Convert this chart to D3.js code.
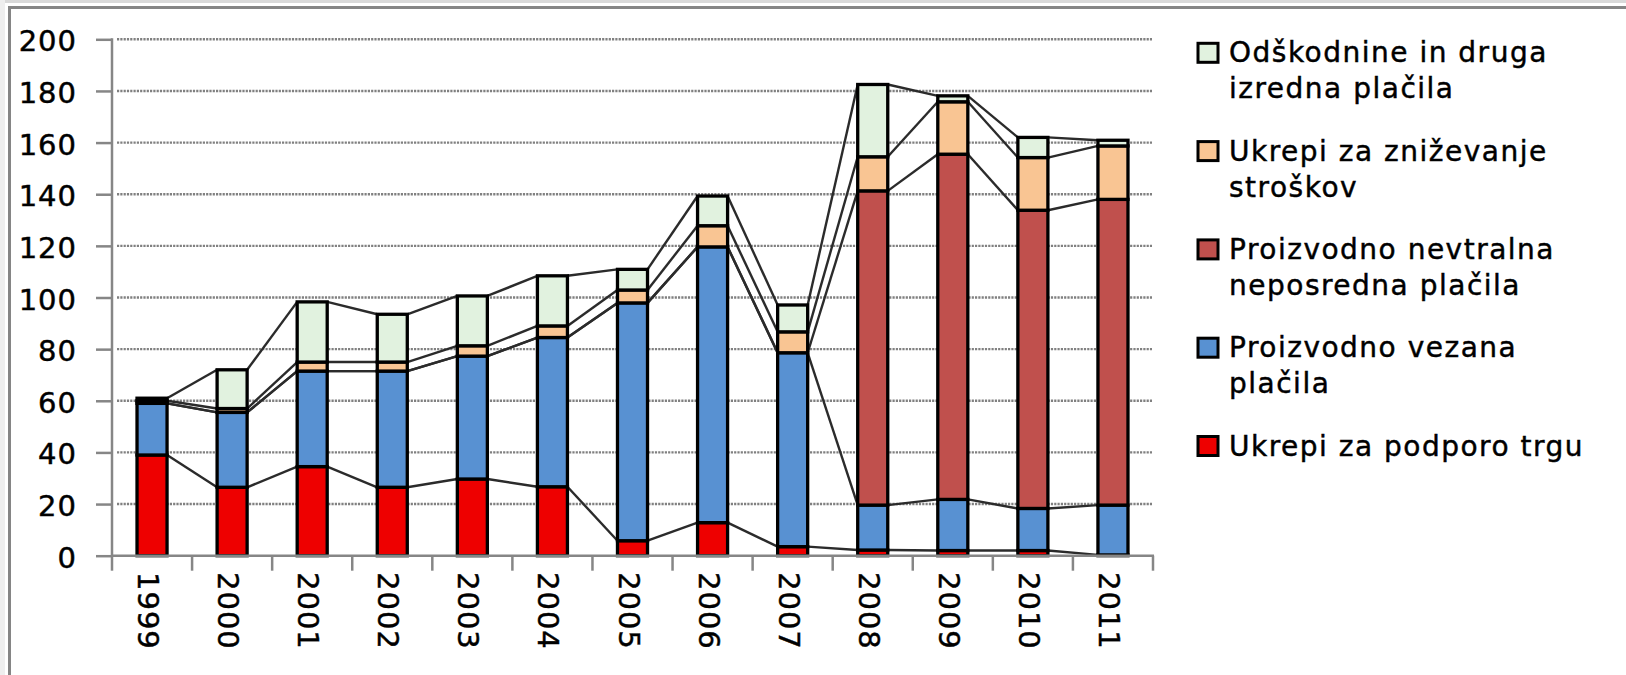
<!DOCTYPE html>
<html>
<head>
<meta charset="utf-8">
<script src="https://cdn.jsdelivr.net/npm/d3@7"></script>
<style>
  html, body { margin: 0; padding: 0; background: #fff; }
  svg { display: block; }
  text { font-family: "DejaVu Sans", Verdana, sans-serif; fill: #000; stroke: #000; stroke-width: 0.45px; }
</style>
</head>
<body>
<svg id="chart" width="1626" height="675"></svg>
<script>
// Years on the x axis
const years = ["1999","2000","2001","2002","2003","2004","2005","2006","2007","2008","2009","2010","2011"];

// Series values (stacked bottom to top)
const podporoTrgu   = [39, 26.5, 34.5, 26.5, 29.7, 26.7, 5.8, 12.8, 3.5, 2.2, 2, 2, 0.3];
const vezanaPlacila = [20, 29, 37, 45, 47.6, 57.8, 92.1, 106.8, 75.1, 17.4, 19.8, 16.3, 19.3];
const nevtralnaPlacila = [0, 0, 0, 0, 0, 0, 0, 0, 0, 121.7, 133.7, 115.5, 118.4];
const znizevanjeStroskov = [1, 1.5, 3.5, 3.5, 4, 4.5, 5, 8.2, 8.1, 13.2, 20.3, 20.4, 20.7];
const odskodnine    = [1, 15, 23.3, 18.5, 19.3, 19.4, 8, 11.5, 10.4, 28, 2.3, 7.8, 2.2];

// Y axis tick labels
const yTicks = [0, 20, 40, 60, 80, 100, 120, 140, 160, 180, 200];

// Series names, in stacking order, with legend text lines
const seriesNames = [
  ["Ukrepi za podporo trgu"],
  ["Proizvodno vezana", "plačila"],
  ["Proizvodno nevtralna", "neposredna plačila"],
  ["Ukrepi za zniževanje", "stroškov"],
  ["Odškodnine in druga", "izredna plačila"]
];
const seriesValues = [podporoTrgu, vezanaPlacila, nevtralnaPlacila, znizevanjeStroskov, odskodnine];
const seriesColors = ["#ee0000", "#5891d2", "#c0504d", "#f9c593", "#e1f2df"];

const svg = d3.select("#chart");

// Outer frame
svg.append("rect").attr("x", 0).attr("y", 0).attr("width", 1626).attr("height", 3).attr("fill", "#d9d9d9");
svg.append("rect").attr("x", 0).attr("y", 0).attr("width", 5).attr("height", 675).attr("fill", "#eeeeee");
svg.append("rect").attr("x", 8).attr("y", 6).attr("width", 1618).attr("height", 3).attr("fill", "#858585");
svg.append("rect").attr("x", 8).attr("y", 6).attr("width", 3).attr("height", 669).attr("fill", "#858585");

const plotLeft = 112, plotRight = 1153, plotTop = 39.3, plotBottom = 555.7;

const x = d3.scaleBand().domain(years).range([plotLeft, plotRight]);
const y = d3.scaleLinear().domain([0, 200]).range([plotBottom, plotTop]);
const barW = x.bandwidth() * 0.375;

// Stack data
const table = years.map((yr, i) => {
  const row = { year: yr };
  seriesValues.forEach((vals, s) => row["s" + s] = vals[i]);
  return row;
});
const keys = seriesValues.map((_, s) => "s" + s);
const stacked = d3.stack().keys(keys)(table);

// Dotted gridlines
svg.append("g").selectAll("line")
  .data(yTicks.filter(t => t > 0))
  .join("line")
  .attr("x1", plotLeft + 5).attr("x2", plotRight - 1)
  .attr("y1", d => y(d)).attr("y2", d => y(d))
  .attr("stroke", "#808080").attr("stroke-width", 2.4)
  .attr("stroke-dasharray", "2.2,1.1");

// Series lines joining segment tops of adjacent bars
const lineG = svg.append("g");
stacked.forEach(layer => {
  for (let i = 0; i < layer.length - 1; i++) {
    const a = layer[i], b = layer[i + 1];
    lineG.append("line")
      .attr("x1", x(years[i]) + x.bandwidth() / 2 + barW / 2)
      .attr("y1", y(a[1]))
      .attr("x2", x(years[i + 1]) + x.bandwidth() / 2 - barW / 2)
      .attr("y2", y(b[1]))
      .attr("stroke", "#2b2b2b").attr("stroke-width", 2.4);
  }
});

// Stacked bars
const barG = svg.append("g");
stacked.forEach((layer, s) => {
  barG.append("g").selectAll("rect")
    .data(layer.filter(d => d[1] - d[0] > 0))
    .join("rect")
    .attr("x", d => x(d.data.year) + x.bandwidth() / 2 - barW / 2)
    .attr("y", d => y(d[1]))
    .attr("width", barW)
    .attr("height", d => y(d[0]) - y(d[1]))
    .attr("fill", seriesColors[s])
    .attr("stroke", "#000").attr("stroke-width", 3.3);
});

// Y axis
const yAxis = svg.append("g").attr("transform", `translate(${plotLeft},0)`)
  .call(d3.axisLeft(y).tickValues(yTicks).tickSize(16).tickFormat(""));
yAxis.select(".domain").remove();
yAxis.selectAll(".tick line").attr("stroke", "#868686").attr("stroke-width", 2.5);
svg.append("line").attr("x1", plotLeft).attr("x2", plotLeft)
  .attr("y1", plotTop - 1).attr("y2", plotBottom + 1)
  .attr("stroke", "#868686").attr("stroke-width", 2.5);

svg.append("g").selectAll("text")
  .data(yTicks)
  .join("text")
  .attr("x", 77)
  .attr("y", d => y(d) + 12)
  .attr("text-anchor", "end")
  .attr("font-size", 29)
  .attr("letter-spacing", 1)
  .text(d => d);

// X axis
svg.append("line").attr("x1", plotLeft - 1).attr("x2", plotRight + 1)
  .attr("y1", plotBottom).attr("y2", plotBottom)
  .attr("stroke", "#868686").attr("stroke-width", 2.5);
const bounds = years.map(yr => x(yr)).concat([plotRight]);
svg.append("g").selectAll("line")
  .data(bounds)
  .join("line")
  .attr("x1", d => d).attr("x2", d => d)
  .attr("y1", plotBottom).attr("y2", plotBottom + 15)
  .attr("stroke", "#868686").attr("stroke-width", 2.5);

svg.append("g").selectAll("text")
  .data(years)
  .join("text")
  .attr("transform", d => `translate(${x(d) + x.bandwidth() / 2 - 14},572) rotate(90)`)
  .attr("font-size", 29)
  .attr("letter-spacing", 1)
  .text(d => d);

// Legend (top entry is the top stack segment)
const legend = svg.append("g");
const legendOrder = d3.range(seriesNames.length).reverse();
legendOrder.forEach((s, k) => {
  const base = 62.3 + k * 98.3;
  legend.append("rect")
    .attr("x", 1198).attr("y", base - 19)
    .attr("width", 20).attr("height", 19)
    .attr("fill", seriesColors[s])
    .attr("stroke", "#000").attr("stroke-width", 3);
  const t = legend.append("text")
    .attr("x", 1229).attr("y", base)
    .attr("font-size", 28)
    .attr("letter-spacing", 1.5);
  seriesNames[s].forEach((ln, j) => {
    t.append("tspan").attr("x", 1229).attr("y", base + j * 36).text(ln);
  });
});
</script>
</body>
</html>
